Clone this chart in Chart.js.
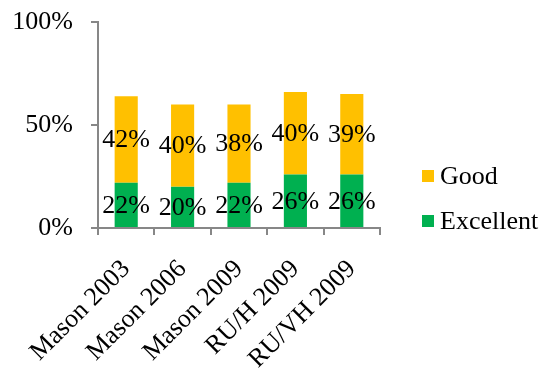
<!DOCTYPE html>
<html>
<head>
<meta charset="utf-8">
<script src="https://cdn.jsdelivr.net/npm/chart.js@4.4.1/dist/chart.umd.min.js"></script>
<style>
  html, body { margin: 0; padding: 0; background: #fff; }
  #wrap { width: 553px; height: 370px; position: relative; }
</style>
</head>
<body>
<div id="wrap"><canvas id="chart"></canvas></div>
<script>
'use strict';

// survey groups and rating shares (%)
const categories = ['Mason 2003', 'Mason 2006', 'Mason 2009', 'RU/H 2009', 'RU/VH 2009'];
const excellent = [22, 20, 22, 26, 26];
const good = [42, 40, 38, 40, 39];
const yTicks = [0, 50, 100];

const serif = '"Liberation Serif", "Times New Roman", serif';
const axisGray = '#878787';

// value labels in the middle of each stacked segment
const segmentLabels = {
    id: 'segmentLabels',
    afterDatasetsDraw(chart) {
        const ctx = chart.ctx;
        ctx.save();
        ctx.font = '26px ' + serif;
        ctx.fillStyle = '#000';
        ctx.textAlign = 'center';
        ctx.textBaseline = 'middle';
        chart.data.datasets.forEach((ds, i) => {
            const meta = chart.getDatasetMeta(i);
            meta.data.forEach((bar, j) => {
                const cy = (bar.y + bar.base) / 2;
                ctx.fillText(ds.data[j] + '%', bar.x, cy + 1);
            });
        });
        ctx.restore();
    }
};

// legend on the right, top item = last dataset
const sideLegend = {
    id: 'sideLegend',
    afterDraw(chart) {
        const ctx = chart.ctx;
        const rows = chart.data.datasets.slice().reverse();
        ctx.save();
        ctx.font = '26px ' + serif;
        ctx.textBaseline = 'middle';
        ctx.textAlign = 'left';
        rows.forEach((ds, k) => {
            const cy = 176 + k * 45;
            ctx.fillStyle = ds.backgroundColor;
            ctx.fillRect(422, cy - 6, 12, 12);
            ctx.fillStyle = '#000';
            ctx.fillText(ds.label, 440, cy + 1);
        });
        ctx.restore();
    }
};

new Chart(document.getElementById('chart'), {
    type: 'bar',
    data: {
        labels: categories,
        datasets: [
            { label: 'Excellent', data: excellent, backgroundColor: '#00B050', borderWidth: 0 },
            { label: 'Good', data: good, backgroundColor: '#FFC000', borderWidth: 0 }
        ]
    },
    options: {
        responsive: true,
        maintainAspectRatio: false,
        animation: false,
        layout: { padding: { top: 22, right: 173, left: 0, bottom: 0 } },
        datasets: { bar: { categoryPercentage: 1.0, barPercentage: 0.41 } },
        plugins: {
            legend: { display: false },
            tooltip: { enabled: false }
        },
        scales: {
            x: {
                stacked: true,
                afterFit(scale) { scale.height = 142; },
                grid: { drawOnChartArea: false, drawTicks: true, tickLength: 7, color: axisGray, lineWidth: 2 },
                border: { color: axisGray, width: 2 },
                ticks: {
                    color: '#000',
                    font: { family: serif, size: 26 },
                    minRotation: 45,
                    maxRotation: 45,
                    autoSkip: false,
                    padding: 19
                }
            },
            y: {
                stacked: true,
                min: 0,
                max: 100,
                afterFit(scale) {
                    scale.width = 98;
                    // keep the label padding from pushing the plot down
                    scale.paddingTop = 4;
                    scale.paddingBottom = 4;
                },
                afterBuildTicks(scale) { scale.ticks = yTicks.map(v => ({ value: v })); },
                grid: { drawOnChartArea: false, drawTicks: true, tickLength: 7, color: axisGray, lineWidth: 2 },
                border: { color: axisGray, width: 2 },
                ticks: {
                    color: '#000',
                    font: { family: serif, size: 26 },
                    padding: 18,
                    callback: v => v + '%'
                }
            }
        }
    },
    plugins: [segmentLabels, sideLegend]
});
</script>
</body>
</html>
